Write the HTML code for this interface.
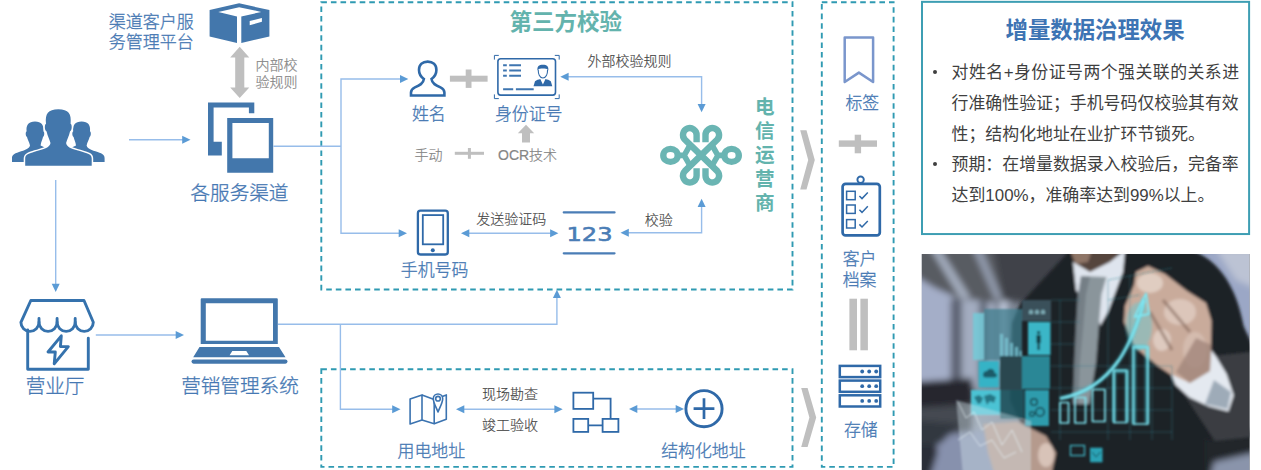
<!DOCTYPE html>
<html lang="zh-CN">
<head>
<meta charset="utf-8">
<title>增量数据治理效果</title>
<style>
html,body{margin:0;padding:0;background:#fff;}
body{width:1261px;height:470px;overflow:hidden;position:relative;font-family:"Liberation Sans","Noto Sans CJK SC",sans-serif;}
#stage{position:absolute;left:0;top:0;width:1261px;height:470px;overflow:hidden;background:#fff;}
svg{position:absolute;left:0;top:0;}
svg text{font-family:"Liberation Sans","Noto Sans CJK SC",sans-serif;}
.lb{fill:#4678b3;font-weight:300;stroke:#4678b3;stroke-width:.3px;}
.t19{font-size:19.6px;}
.t17{font-size:16.9px;}
.g14{font-size:14px;fill:#858585;font-weight:300;stroke:#858585;stroke-width:.2px;}
.d14{font-size:14px;fill:#454545;font-weight:300;stroke:#454545;stroke-width:.15px;}
.teal{fill:#63b3ad;font-weight:700;}
.ln{stroke:#97bdea;stroke-width:1.4;fill:none;}
.ah{fill:#5b9bd5;}
.dash{stroke:#2f9ab2;stroke-width:1.9;stroke-dasharray:5.6 4;fill:none;}
.ic{fill:#4377ac;}
.ol{stroke:#2f69a8;fill:none;}
.gr{fill:#bfbfbf;}
#panel{position:absolute;left:922.6px;top:1.6px;width:326px;height:231px;background:#fff;}
#panel h1{position:absolute;left:9.5px;top:14px;width:100%;margin:0;text-align:center;font-size:22.4px;line-height:30px;font-weight:700;color:#3d74b4;}
#panel ul{position:absolute;left:0;top:56.6px;margin:0;padding:0;list-style:none;width:326px;}
#panel li{position:relative;padding-left:29px;font-size:16.9px;line-height:30.65px;color:#3f3f3f;white-space:nowrap;}
#panel .j{display:block;width:287.5px;text-align:justify;text-align-last:justify;}
#panel li:before{content:"";position:absolute;left:10.4px;top:11.4px;width:4.4px;height:4.4px;border-radius:50%;background:#3f3f3f;}
</style>
</head>
<body>
<div id="stage">

<div id="panel">
<h1>增量数据治理效果</h1>
<ul>
<li><span class="j">对姓名+身份证号两个强关联的关系进</span>行准确性验证；手机号码仅校验其有效<br>性；结构化地址在业扩环节锁死。</li>
<li>预期：在增量数据录入校验后，完备率<br>达到100%，准确率达到99%以上。</li>
</ul>
</div>

<svg id="photo" width="1261" height="470" viewBox="0 0 1261 470">
<defs>
  <clipPath id="pc"><rect x="921.8" y="254" width="327.6" height="216"/></clipPath>
  <filter id="b1" x="-5%" y="-5%" width="110%" height="110%"><feGaussianBlur stdDeviation="0.9"/></filter>
  <filter id="b3" x="-10%" y="-10%" width="120%" height="120%"><feGaussianBlur stdDeviation="3"/></filter>
  <filter id="b5" x="-10%" y="-10%" width="120%" height="120%"><feGaussianBlur stdDeviation="5"/></filter>
  <filter id="b2" x="-10%" y="-10%" width="120%" height="120%"><feGaussianBlur stdDeviation="1.8"/></filter>
  <linearGradient id="bgL" x1="0" y1="0" x2="1" y2="0">
    <stop offset="0" stop-color="#a2aaba"/><stop offset="0.1" stop-color="#949cac"/><stop offset="0.3" stop-color="#7a8290"/><stop offset="1" stop-color="#2a2d33"/>
  </linearGradient>
  <linearGradient id="flr" x1="0" y1="0" x2="0" y2="1">
    <stop offset="0" stop-color="#555961"/><stop offset="1" stop-color="#92969e"/>
  </linearGradient>
</defs>
<g clip-path="url(#pc)">
  <rect x="915" y="250" width="340" height="225" fill="url(#bgL)"/>
  <!-- far background -->
  <g filter="url(#b3)">
    <rect x="912" y="270" width="40" height="120" fill="#a4aec8"/>
    <polygon points="912,248 1078,248 1068,270 1040,294 1000,303 960,299 935,288 912,274" fill="#595b62"/>
    <polygon points="993,248 1078,248 1030,304 1003,299" fill="#414349"/>
    <polygon points="930,248 939.500,248 971,298 960.500,299" fill="#a2abbc"/>
    <polygon points="972,248 981.500,248 1002.500,298.500 995,300" fill="#9099aa"/>
    <rect x="950.500" y="299" width="11.500" height="87" fill="#5d6473"/>
    <rect x="962" y="300" width="17" height="86" fill="#a3acc0"/>
    <rect x="979" y="302" width="8.500" height="80" fill="#626a7a"/>
    <rect x="987.500" y="302" width="8" height="76" fill="#a3acc0"/>
    <rect x="995.500" y="302" width="4" height="70" fill="#6b7383"/>
    <rect x="999.500" y="301" width="8" height="66" fill="#bcc5d8"/>
    <rect x="912" y="402" width="60" height="40" fill="#454951"/>
    <polygon points="912,382 972,378 974,404 912,408" fill="#25282e"/>
    <polygon points="912,440 935,436 1005,428 1005,478 912,478" fill="#8791ad"/>
    <polygon points="912,436 934,436 938,452 930,478 912,478" fill="#2b2f38"/>
    <polygon points="912,420 960,424 940,444 912,446" fill="#33373f"/>
    <!-- right top bg -->
    <polygon points="1185,248 1260,248 1260,350 1240,330 1225,290 1205,262" fill="#9ba7c6"/>
    <polygon points="1215,248 1260,248 1260,290 1236,280" fill="#bcc3d4"/>
    <!-- right bottom bg -->
    <rect x="1195" y="430" width="62" height="48" fill="#23262c"/>
    <polygon points="1214,462 1258,452 1258,478 1210,478" fill="#8a94ab"/>
  </g>
  <!-- suit -->
  <g filter="url(#b2)">
    <path d="M1070,250 L1188,250 C1222,258 1238,294 1243.500,326 L1252,347 L1252,437 L1205,440 L1205,476 L1046,476 L1028,440 L1010,400 L1011,360 L1012,323 L1020,304 Z" fill="#1d2025"/>
    <path d="M1180,388 L1214,356 L1252,352 L1252,437 L1215,441 Z" fill="#3a3d43"/>
    <!-- neck -->
    <polygon points="1070,250 1120,250 1112,266 1090,275 1074,265" fill="#54443e"/>
    <polygon points="1070,250 1092,250 1088,262 1076,264" fill="#8e7566"/>
    <!-- shirt -->
    <polygon points="1073,262 1090,272 1110,262 1125,250 1123,272 1108,312 1100,326 1094,296 1086,284 1083,300 1076,290" fill="#dfe5ee"/>
    <!-- tie -->
    <polygon points="1081,276 1106.500,277 1101.500,294.5 1098.500,330 1096,362 1089.500,404 1073,404 1074.500,362 1076,330 1078,294.5" fill="#8a959b"/>
    <polygon points="1081,276 1090,276.500 1086,294.5 1083,330 1080,362 1078,404 1073,404 1074.500,362 1076,330 1078,294.5" fill="#6c767d" opacity=".7"/>
    <!-- cuff -->
    <polygon points="1167.500,366 1175.400,384.7 1189.500,397.5 1208.900,406.500 1228.400,411.500 1233.700,395.3 1226.600,374.100 1216,356.500 1210.700,349.4 1209,370.5 1189,382.7" fill="#e4e9f0"/>
    <polygon points="1214,380 1231,392 1227.500,409 1205,404" fill="#8796a5" opacity=".75"/>
    <!-- right hand -->
    <path d="M1136,272 L1148,266 L1165,274 L1187,291 L1206,303 L1211.500,321 L1211,345 L1210,371 L1190,383 L1170,374 L1158,366 L1148,358 L1134,346 L1124,322 L1125,306 L1134,285 Z" fill="#c9ab9b"/>
    <ellipse cx="1150" cy="283" rx="13" ry="10" fill="#e4d2c8" opacity=".85"/>
    <ellipse cx="1180" cy="312" rx="16" ry="13" fill="#dfcabf" opacity=".85"/>
    <ellipse cx="1162" cy="340" rx="9" ry="11" fill="#e2cfc5" opacity=".85"/>
    <ellipse cx="1195" cy="350" rx="12" ry="18" fill="#d9c2b6" opacity=".7"/>
    <path d="M1163,300 L1190,332 M1150,312 L1172,350" stroke="#7b5f53" stroke-width="3" opacity=".6" fill="none"/>
    <polygon points="1196,338 1211.500,345 1210,371 1190,383 1176,372" fill="#a1867a" opacity=".8"/>
    <ellipse cx="1139" cy="326" rx="13" ry="24" fill="#4fd0e0" opacity=".38"/>
    <!-- left hand -->
    <polygon points="983,424 1017,421.5 1046,436 1056,453 1051,476 995,476 988,453" fill="#b59a8d"/>
    <ellipse cx="1046" cy="455" rx="8" ry="12" fill="#d8c3b8"/>
  </g>
  <!-- holographic tiles -->
  <g filter="url(#b1)">
    <rect x="984" y="309" width="38" height="51" fill="#3f7f90" opacity=".72"/>
    <rect x="973" y="313" width="11" height="47" fill="#74cbd9" opacity=".85"/>
    <rect x="1022" y="300" width="29" height="21" fill="#3d5560" opacity=".9"/>
    <path d="M1000,358 v-24 h3 v24 z M1005,358 v-20 h3 v20 z M1010,358 v-15 h3 v15 z M1015,358 v-11 h3 v11 z M1019.500,358 v-7 h2.500 v7 z" fill="#7cc8d8" opacity=".75"/>
    <path d="M1029,314 v-3 q2,-3 4,0 v3 z M1035,314 v-3 q2,-3 4,0 v3 z M1041,314 v-3 q2,-3 4,0 v3 z" fill="#8fc0cc" opacity=".8"/>
    <rect x="1028" y="322" width="22.5" height="33" fill="#3ab6c7"/>
    <path d="M1038.6,331 a1.600,1.600 0 1 0 0.010,0 M1036.500,335 h4.200 v8 h-1 v7 h-2.200 v-7 h-1 z" fill="#173840"/>
    <rect x="978.600" y="361" width="20.300" height="26.500" fill="#35b3c6"/>
    <path d="M983,375 q0,-4 4,-4 q1.500,-3 5,-2 q3,1 2.500,4 q2.500,0 2.500,2.500 q0,2 -2.500,2 h-9 q-2.500,0 -2.500,-2.500 z" fill="#1a5a68"/>
    <rect x="971" y="390" width="29" height="25" fill="#4cc3d4"/>
    <path d="M974,397 l5,-2 l4,3 l-2,5 l-3,1 z M984,396 l6,-2 l6,3 l-2,6 l-4,-2 l-3,4 l-2,-5 z" fill="#1f6472" opacity=".8"/>
    <rect x="1000" y="356" width="23" height="34" fill="#2c4650"/>
    <rect x="1022" y="356" width="28" height="33" fill="#2a8796"/>
    <rect x="1025" y="390" width="24" height="36" fill="#2f9cad"/>
    <rect x="1000" y="390" width="24" height="29" fill="#1f5560" opacity=".9"/>
    <circle cx="1034" cy="402" r="3.300" fill="none" stroke="#163f48" stroke-width="1.500"/>
    <circle cx="1040" cy="412" r="4.200" fill="none" stroke="#163f48" stroke-width="1.500"/>
    <circle cx="1032" cy="414" r="2.300" fill="none" stroke="#163f48" stroke-width="1.200"/>
    <polygon points="956,400 1031,421 1031,476 963,476" fill="#dfeef6" opacity=".36"/>
    <path d="M958,402 L966,418 L974,412 L982,430 L992,422 L1002,445 L1012,430 L1022,452 M958,440 L970,432 L980,446 L992,440 L1004,458 L1016,452" stroke="#e8f4f8" stroke-width="1" fill="none" opacity=".7"/>
    <rect x="1090" y="447.700" width="12.500" height="14.600" fill="#2ca3b6"/>
    <path d="M1092,452 l4.200,5 l4.200,-5" stroke="#12424c" stroke-width="1" fill="none"/>
    <rect x="1070.500" y="445.500" width="14" height="10" fill="none" stroke="#3fb5c6" stroke-width="1.300"/>
    <!-- grid -->
    <g stroke="#2f7f8c" stroke-width=".8" opacity=".55" fill="none">
      <path d="M1051,300 H1080 M1051,322 H1080 M1051,344 H1075 M1051,366 H1172 M1051,388 H1172 M1051,410 H1172 M1051,432 H1172 M1060,300 V440 M1108,280 V440 M1130,275 V440 M1152,360 V440 M1172,366 V440 M1108,280 L1172,268 M1108,300 L1140,295"/>
    </g>
  </g>
  <!-- bars + curve with glow -->
  <g fill="none" stroke="#49cfe0" stroke-width="4" opacity=".55" filter="url(#b2)">
    <path d="M1060,398.5 C1085,394 1105,380 1119,360 C1131,342 1139,320 1144,298"/>
    <path d="M1134,424 V347 H1147 V424 M1114,422 V371 H1127 V422"/>
  </g>
  <g fill="none" stroke="#7fe6f2" stroke-width="1.700" stroke-linejoin="round" filter="url(#b1)">
    <rect x="1060" y="402.500" width="8.500" height="20.500"/>
    <rect x="1075" y="397.500" width="10.500" height="25.500"/>
    <rect x="1092.500" y="389.500" width="12.500" height="32"/>
    <rect x="1113.800" y="370.500" width="13" height="52"/>
    <rect x="1133.300" y="347" width="14.500" height="77"/>
    <path d="M1060,398.500 C1085,394 1105,380 1119,360 C1131,342 1139,320 1144.500,300" stroke-width="2.200"/>
    <path d="M1146,293.500 L1149,314 L1134.500,317 Z" stroke-width="1.900"/>
  </g>
</g>

</svg>

<svg id="dia" width="1261" height="470" viewBox="0 0 1261 470">
<!-- panel border -->
<rect x="922" y="1.85" width="327.1" height="232.2" fill="none" stroke="#3d9eb3" stroke-width="2"/>

<!-- dashed boxes -->
<rect class="dash" x="321.3" y="2.2" width="471.2" height="287.3"/>
<rect class="dash" x="321.3" y="369.3" width="471.2" height="97.6"/>
<rect class="dash" x="821.8" y="2.2" width="71.8" height="464.7"/>

<!-- connector lines -->
<g class="ln">
  <path d="M129,139.8 H186"/>
  <path d="M273.5,146.3 H341"/>
  <path d="M404,79 H341 V233.2 H403"/>
  <path d="M565,76.8 H701.6 V107"/>
  <path d="M466,233.2 H553"/>
  <path d="M626,232.8 H701.6 V204"/>
  <path d="M55.7,180 V287"/>
  <path d="M95.8,335 H179"/>
  <path d="M278,324.2 H556.9 V295"/>
  <path d="M340.4,324.2 V409.2 H396"/>
  <path d="M461,409.2 H558"/>
  <path d="M634,409 H679"/>
</g>
<g class="ah">
  <path d="M190.5,139.8 l-8.3,-4 v8 z"/>
  <path d="M408.3,79 l-8.3,-4 v8 z"/>
  <path d="M407,233.2 l-8.3,-4 v8 z"/>
  <path d="M560.3,76.8 l8.3,-4 v8 z"/>
  <path d="M701.6,112.3 l-4,-8.3 h8 z"/>
  <path d="M461,233.2 l8.3,-4 v8 z"/>
  <path d="M558.4,233.2 l-8.3,-4 v8 z"/>
  <path d="M620.5,232.8 l8.3,-4 v8 z"/>
  <path d="M701.6,198.8 l-4,8.3 h8 z"/>
  <path d="M55.7,292 l-4,-8.3 h8 z"/>
  <path d="M184,335 l-8.3,-4 v8 z"/>
  <path d="M556.9,289.8 l-4,8.3 h8 z"/>
  <path d="M400.5,409.2 l-8.3,-4 v8 z"/>
  <path d="M456,409.2 l8.3,-4 v8 z"/>
  <path d="M562.7,409.2 l-8.3,-4 v8 z"/>
  <path d="M629,409 l8.3,-4 v8 z"/>
  <path d="M684,409 l-8.3,-4 v8 z"/>
</g>

<!-- grey shapes -->
<g class="gr">
  <!-- vertical double arrow -->
  <path d="M239.7,46.8 L249.3,57.5 H244.3 V87.5 H249.3 L239.7,98 L230.2,87.5 H235.2 V57.5 H230.2 Z"/>
  <!-- big plus -->
  <rect x="449.9" y="75.7" width="37.7" height="6"/>
  <rect x="465.7" y="69.5" width="5.8" height="18.4"/>
  <!-- small up arrow -->
  <path d="M526,124.800 L534.2,133.2 H530 V142.5 H522 V133.2 H517.8 Z"/>
  <!-- small plus -->
  <rect x="454.8" y="151.8" width="29.2" height="3"/>
  <rect x="467.9" y="148" width="3" height="10.8"/>
  <!-- chevrons -->
  <path d="M800.2,130.3 H806.5 L814.8,160 L806.5,189.6 H800.2 L808.2,160 Z"/>
  <path d="M801.2,388 H807.6 L816.2,417.5 L807.6,447 H801.2 L809.4,417.5 Z"/>
  <!-- plus right column -->
  <rect x="838.8" y="140.4" width="38.2" height="6.4"/>
  <rect x="854.7" y="134.7" width="6.4" height="18.6"/>
  <!-- || -->
  <rect x="849.4" y="298.7" width="7.6" height="51.6"/>
  <rect x="860.4" y="298.7" width="7.5" height="51.6"/>
</g>

<!-- package icon -->
<path class="ic" fill-rule="evenodd" d="M239.1,3.3 L269.4,10.1 V36.5 L241.3,42.9 V16.6 L261.2,11.9 L239.1,7.2 L218.3,11.9 L237,16.6 V42.9 L209.6,36.5 V10.1 Z M249.7,21 L261.9,17.9 V21.8 L249.7,25.2 Z"/>

<!-- people icon -->
<g class="ic">
  <path d="M30,145.5 C29.3,142 27.6,140 27,137 C25.4,136 25.4,132 26.6,131.3 C26,125 28.5,121.5 35,121.5 C41.5,121.5 44,125 43.4,131.3 C44.6,132 44.6,136 43,137 C42.4,140 41,142 40.6,145.5 L50,150 L52,162 L12,162 L12,158.5 C12,155 13.5,154 19,152 C25,150 29,149 30,145.5 Z"/>
  <path transform="translate(116.6,0) scale(-1,1)" d="M30,145.5 C29.3,142 27.6,140 27,137 C25.4,136 25.4,132 26.6,131.3 C26,125 28.5,121.5 35,121.5 C41.5,121.5 44,125 43.4,131.3 C44.6,132 44.6,136 43,137 C42.4,140 41,142 40.6,145.5 L50,150 L52,162 L12,162 L12,158.5 C12,155 13.5,154 19,152 C25,150 29,149 30,145.5 Z"/>
  <path stroke="#fff" stroke-width="3" paint-order="stroke" d="M50.5,143 C49.4,139 47.6,136 46.6,131.5 C44.4,130.5 44.4,124.5 46,123.8 C45,114 48,109.3 58.3,109.3 C68.6,109.3 71.6,114 70.6,123.8 C72.2,124.5 72.2,130.5 70,131.5 C69,136 67.2,139 66.1,143 C67,147.2 70,148.2 78,150.6 C88,153.6 91.7,154.2 91.7,158.5 L91.7,165.8 L25.2,165.8 L25.2,158.5 C25.2,154.2 29,153.6 38.6,150.6 C46.6,148.2 49.6,147.2 50.5,143 Z"/>
</g>

<!-- channel icon -->
<g class="ic">
  <path d="M208,102.6 H254.3 V113.3 H248.9 V107.6 H213.6 V141.7 H221.8 V155.6 H208 Z"/>
  <path fill-rule="evenodd" d="M227.2,118 H273.2 V172.8 H227.2 Z M232.4,123 V158.3 H268.8 V123 Z"/>
</g>

<!-- shop icon -->
<g fill="none" stroke="#3572ad" stroke-width="2.9" stroke-linecap="round" stroke-linejoin="round">
  <path d="M30.8,300.5 H84 L93.3,322.3 A9.05,9.05 0 0 1 75.2,322.3 A9.05,9.05 0 0 1 57.1,322.3 A9.05,9.05 0 0 1 39,322.3 A9.05,9.05 0 0 1 20.9,322.3 Z"/>
  <path d="M39,318.5 V322.3 M57.1,318.5 V322.3 M75.2,318.5 V322.3"/>
  <path d="M27.7,330 V369.200 H88.3 V338.2"/>
  <path d="M61.3,335.8 L48,352 H55.3 L54.2,363.8 L68.3,346.6 H60.4 Z"/>
</g>

<!-- laptop icon -->
<g class="ic">
  <path fill-rule="evenodd" d="M201.7,298.2 H276.8 Q277.8,298.2 277.8,299.2 V344.1 H200.7 V299.2 Q200.7,298.2 201.7,298.2 Z M205.8,303.3 V340.7 H273 V303.3 Z"/>
  <path fill-rule="evenodd" d="M199.5,347 H279 L285.5,357.3 H193.2 Z M232.3,351 H246.3 L249,355.2 H229.6 Z"/>
  <rect x="191.5" y="359.5" width="96" height="4.2" rx="2.1"/>
</g>

<!-- person outline -->
<g class="ol" stroke-width="2.6" stroke-linejoin="miter">
  <path d="M423.9,79 C420.2,76.4 419,73 419,70 C419,64.6 422.6,61.6 427.7,61.6 C432.8,61.6 436.4,64.600 436.4,70 C436.4,73 435.2,76.4 431.500,79 C431.900,83.5 436,85.4 440.5,87.4 C443.600,88.800 444.4,90 444.4,92.600 V95.5 H411 V92.600 C411,90 411.800,88.800 414.900,87.4 C419.4,85.4 423.500,83.5 423.900,79 Z"/>
</g>

<!-- id card -->
<g class="ol" stroke-width="1" stroke="#7a9fce">
  <path d="M494.4,59.6 V55.4 H498.8 M554.8,55.4 H559.2 V59.6 M559.2,94.4 V98.6 H554.8 M498.8,98.6 H494.4 V94.4"/>
</g>
<rect class="ol" stroke-width="1.6" x="497.9" y="58.7" width="57.6" height="36.4" rx="2.8"/>
<g stroke="#3e75b0" stroke-width="2" fill="none">
  <path d="M503.1,65.3 H506.8 M509.2,65.3 H521 M503.1,70.4 H506.8 M509.2,70.4 H521 M503.1,75.7 H506.8 M509.2,75.7 H521 M503.1,89.2 H513.2 M515.9,89.2 H533.7"/>
</g>
<g fill="#2f69a8">
  <path d="M537.6,70.5 C536.8,66.5 539,64.8 542.9,64.8 C546.8,64.8 549,66.5 548.2,70.5 C547.6,69 546.4,68.3 542.9,68.6 C539.4,68.3 538.2,69 537.6,70.5 Z"/>
  <path d="M533.5,86.2 L535,81.2 C536.5,80 538.5,79.6 540.3,79 L542.9,84.5 L545.5,79 C547.3,79.6 549.3,80 550.8,81.2 L552.3,86.2 Z"/>
</g>
<path d="M538.2,69.6 C538.2,74 539.8,78 542.9,78 C546,78 547.6,74 547.6,69.6" fill="none" stroke="#2f69a8" stroke-width="1.1"/>

<!-- phone -->
<rect class="ol" stroke-width="2.3" x="417.9" y="210.6" width="29.9" height="43.9" rx="2.6"/>
<rect class="ol" stroke-width="1.8" x="422.8" y="215.1" width="20.4" height="29.2"/>
<circle cx="432.8" cy="250.2" r="2" fill="#2f69a8"/>

<!-- 123 -->
<g stroke="#4a7db6" stroke-width="2.3" stroke-linecap="round">
  <path d="M563.8,212.4 H614.5 M563.8,253.3 H614.5"/>
</g>
<text x="566.5" y="240.6" font-size="20" textLength="46" lengthAdjust="spacingAndGlyphs" style="font-family:'DejaVu Sans','Liberation Sans',sans-serif;fill:#4a7db6;stroke:#4a7db6;stroke-width:.6px">123</text>

<!-- logo -->
<g fill="none" stroke="#6ab5b3" stroke-width="6.4">
  <path d="M696.600,142.3 V134.900 A6.8,6.8 0 1 0 684.800,139.500 L717.3,171.100 A6.8,6.8 0 1 1 705.500,175.700 V168.300"/>
  <path d="M705.500,142.3 V134.900 A6.8,6.8 0 1 1 717.3,139.500 L684.800,171.100 A6.8,6.8 0 1 0 696.600,175.700 V168.300"/>
  <ellipse cx="670.5" cy="155.4" rx="7.2" ry="6.5"/>
  <ellipse cx="731.600" cy="155.4" rx="7.2" ry="6.5"/>
  <path d="M677.500,155.4 H684 M689.3,146.500 L684.2,155.4 L689.3,164.3 M724.600,155.4 H718.100 M712.800,146.500 L717.900,155.4 L712.800,164.3" stroke-width="5.6"/>
</g>

<!-- bookmark -->
<path d="M844.7,37.4 H873.1 V82 L858.9,72.6 L844.7,82 Z" fill="none" stroke="#7a96cc" stroke-width="2.5" stroke-linejoin="round"/>

<!-- clipboard -->
<g class="ol">
  <circle cx="860.6" cy="179.7" r="3.2" stroke-width="1.900"/>
  <rect x="842.6" y="183.800" width="37.200" height="51.600" rx="3" stroke-width="2.7" fill="#fff"/>
  <g stroke-width="1.5">
    <rect x="846.6" y="191.3" width="8.6" height="8.4"/>
    <rect x="846.6" y="205" width="8.6" height="8.4"/>
    <rect x="846.6" y="219.6" width="8.6" height="8.4"/>
    <path d="M859.4,196 L862,198.6 L867.8,192.5 M859.4,209.8 L862,212.4 L867.8,206.3 M859.4,224.4 L862,227 L867.8,220.9"/>
  </g>
</g>

<!-- server -->
<g class="ol" stroke-width="2.5">
  <rect x="839.8" y="365.9" width="40.4" height="11.2"/>
  <rect x="839.8" y="380.6" width="40.4" height="11.2"/>
  <rect x="839.8" y="395.3" width="40.4" height="11.2"/>
</g>
<g fill="#2f69a8">
  <circle cx="862.2" cy="371.5" r="1.9"/><circle cx="869.2" cy="371.5" r="1.9"/><circle cx="876.2" cy="371.5" r="1.9"/>
  <circle cx="862.2" cy="386.2" r="1.9"/><circle cx="869.2" cy="386.2" r="1.9"/><circle cx="876.2" cy="386.2" r="1.9"/>
  <circle cx="862.2" cy="400.9" r="1.9"/><circle cx="869.2" cy="400.9" r="1.9"/><circle cx="876.2" cy="400.9" r="1.9"/>
</g>

<!-- map -->
<g fill="none" stroke="#3b73b0" stroke-width="1.6" stroke-linejoin="round">
  <path d="M410.1,398.9 L422,394.9 V419.9 L410.1,424 Z"/>
  <path d="M422,394.9 L434.2,399.4 V423.8 L422,419.9"/>
  <path d="M434.2,399.4 L446.3,394.9 V419.3 L434.2,423.8"/>
  <path d="M438,412 C436,407 433.3,402.5 433.3,398.7 A4.7,4.7 0 0 1 442.700,398.7 C442.7,402.5 440,407 438,412 Z" fill="#fff"/>
  <circle cx="438" cy="398.7" r="2.3"/>
</g>

<!-- flow icon -->
<g class="ol" stroke-width="1.8" stroke="#3b73b0">
  <rect x="573.4" y="392.7" width="19.8" height="16.2"/>
  <rect x="573.4" y="418.9" width="14.8" height="13"/>
  <rect x="602.6" y="418.9" width="15.8" height="13"/>
  <path d="M593.2,398.6 H610.6 V418.9 M588.2,425.4 H602.6"/>
</g>

<!-- circle plus -->
<g class="ol">
  <circle cx="704" cy="408.7" r="18.1" stroke-width="2.9"/>
  <path d="M704,398.3 V419.100 M693.600,408.7 H714.4" stroke-width="2.7"/>
</g>

<!-- texts -->
<g class="lb">
  <text class="t17" x="108.7" y="27.6" style="font-size:17px">渠道客户服</text>
  <text class="t17" x="108.7" y="47.6" style="font-size:17px">务管理平台</text>
  <text class="t19" x="190.500" y="200.2">各服务渠道</text>
  <text class="t19" x="25.700" y="393.4">营业厅</text>
  <text class="t19" x="181.2" y="393">营销管理系统</text>
  <text class="t17" x="411.9" y="120.4">姓名</text>
  <text class="t17" x="494.9" y="120.4">身份证号</text>
  <text class="t17" x="400.8" y="276.2">手机号码</text>
  <text class="t17" x="397.6" y="456.6">用电地址</text>
  <text class="t17" x="661.2" y="456.5">结构化地址</text>
  <text class="t17" x="845.4" y="108.5" style="font-size:16.8px">标签</text>
  <text class="t17" x="842.7" y="265.3" style="font-size:16.9px">客户</text>
  <text class="t17" x="842.7" y="285.6" style="font-size:16.9px">档案</text>
  <text class="t17" x="843.9" y="435.6" style="font-size:16.9px">存储</text>
</g>
<g class="g14">
  <text x="255.6" y="70">内部校</text>
  <text x="255.6" y="87">验规则</text>
  <text x="414.4" y="159.6">手动</text>
  <text x="498" y="159.6">OCR技术</text>
</g>
<g class="d14">
  <text x="587.6" y="66.2">外部校验规则</text>
  <text x="476.3" y="224">发送验证码</text>
  <text x="644.7" y="224.8">校验</text>
  <text x="482" y="398.7">现场勘查</text>
  <text x="482" y="429.5">竣工验收</text>
</g>
<g class="teal">
  <text x="509.6" y="30.4" style="font-size:22.5px">第三方校验</text>
  <text x="755" y="114" style="font-size:19.6px">电</text>
  <text x="755" y="138.1" style="font-size:19.6px">信</text>
  <text x="755" y="162.2" style="font-size:19.6px">运</text>
  <text x="755" y="186.3" style="font-size:19.6px">营</text>
  <text x="755" y="210.4" style="font-size:19.6px">商</text>
</g>

</svg>

</div>
</body>
</html>
